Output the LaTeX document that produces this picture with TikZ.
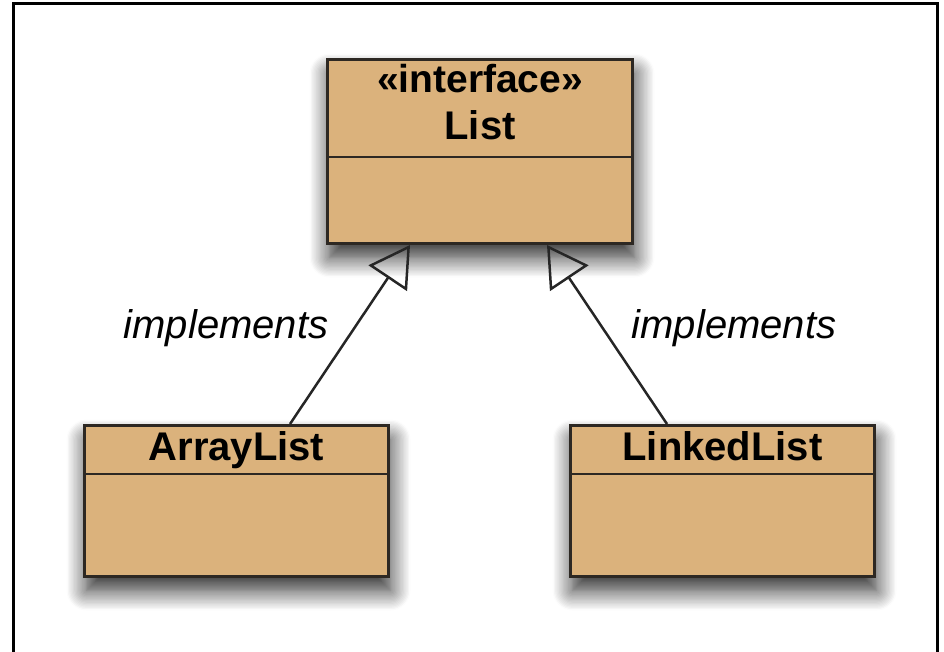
\documentclass[tikz,border=0pt]{standalone}
\usepackage{fontspec}
\setmainfont{Liberation Sans}
\usetikzlibrary{arrows.meta,shadows.blur}
\definecolor{classfill}{RGB}{219,178,124}
\definecolor{classline}{RGB}{45,40,35}
\begin{document}
\begin{tikzpicture}[x=1pt,y=-1pt,
  classbox/.style={draw=classline, line width=3pt, fill=classfill, rectangle,
    inner sep=0pt, anchor=north west,
    blur shadow={shadow xshift=2pt, shadow yshift=-14pt,
      shadow blur radius=20pt, shadow blur steps=16, shadow opacity=85}},
  divider/.style={draw=classline, line width=2.5pt},
  title/.style={font=\fontsize{40}{44}\selectfont\bfseries, text=black,
    inner sep=0pt, anchor=base},
  stereotype/.style={font=\fontsize{39}{44}\selectfont\bfseries, text=black,
    inner sep=0pt, anchor=base},
  relname/.style={font=\fontsize{40}{44}\selectfont\itshape, text=black,
    inner sep=0pt, anchor=base},
  impl/.style={line width=2.5pt, draw=black!85,
    -{Triangle[open, length=40pt, width=46pt]}}]

\useasboundingbox (0,0) rectangle (944,652);

% outer frame, open at the bottom
\draw[line width=3pt] (13,652) -- (13,4) -- (937,4) -- (937,652);

% interface List
\node[classbox, minimum width=305pt, minimum height=184pt] (list) at (326,58) {};
\draw[divider] ([yshift=-99pt]list.north west) -- ([yshift=-99pt]list.north east);
\node[stereotype] (stereo) at ([yshift=-35pt]list.north) {«interface»};
\node[title] (listname) at ([yshift=-82pt]list.north) {List};

% class ArrayList
\node[classbox, minimum width=304pt, minimum height=151pt] (al) at (83,424) {};
\draw[divider] ([yshift=-50pt]al.north west) -- ([yshift=-50pt]al.north east);
\node[title] (alname) at ([yshift=-36pt]al.north) {ArrayList};

% class LinkedList
\node[classbox, minimum width=304pt, minimum height=151pt] (ll) at (569,424) {};
\draw[divider] ([yshift=-50pt]ll.north west) -- ([yshift=-50pt]ll.north east);
\node[title] (llname) at ([yshift=-36pt]ll.north) {LinkedList};

% realization connectors
\draw[impl] ([xshift=207pt]al.north west) -- ([xshift=84pt]list.south west);
\draw[impl] ([xshift=98pt]ll.north west) -- ([xshift=221pt]list.south west);

\node[relname] (implA) at (226,338) {implements};
\node[relname] (implB) at (734,338) {implements};
\end{tikzpicture}
\end{document}
